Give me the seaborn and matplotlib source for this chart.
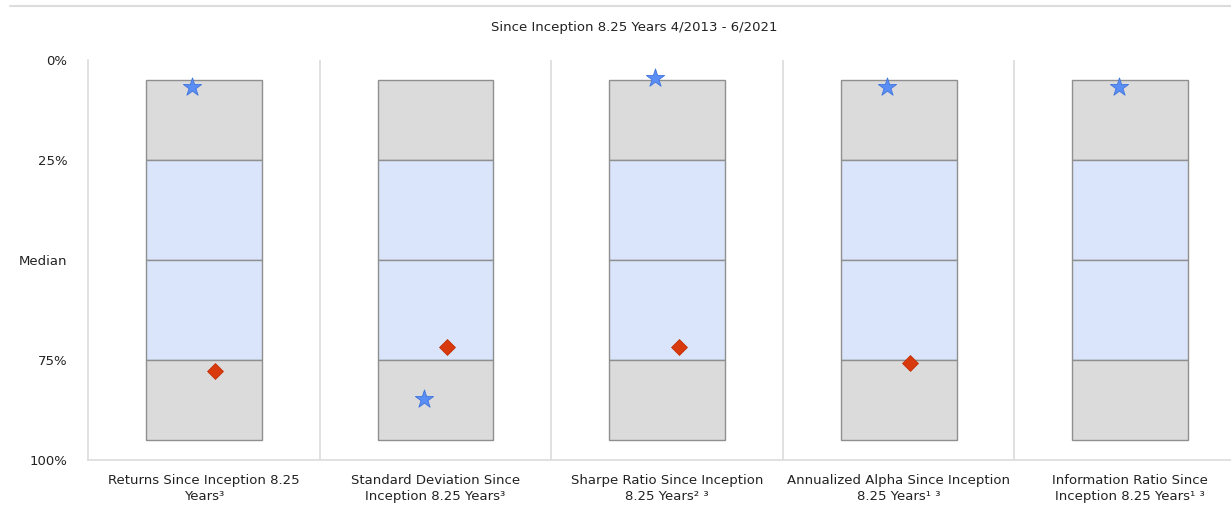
import numpy as np
import pandas as pd
import seaborn as sns
import matplotlib.pyplot as plt

categories = ["Returns Since Inception 8.25\nYears³",
              "Standard Deviation Since\nInception 8.25 Years³",
              "Sharpe Ratio Since Inception\n8.25 Years² ³",
              "Annualized Alpha Since Inception\n8.25 Years¹ ³",
              "Information Ratio Since\nInception 8.25 Years¹ ³"]
# percentile band edges of the box (5th .. 95th)
band_edges = [5, 25, 50, 75, 95]
band_colors = ["#dbdbdb", "#dae5fb", "#dae5fb", "#dbdbdb"]
star_pct = [6.75, 84.75, 4.5, 6.75, 6.75]
diamond_pct = [77.75, 71.75, 71.75, 75.75, np.nan]
ytick_vals = [0, 25, 50, 75, 100]
ytick_labels = ["0%", "25%", "Median", "75%", "100%"]

sns.set_theme(style="white")
plt.rcParams['font.family'] = ['DejaVu Sans']

fig = plt.figure(figsize=(12.31, 5.2), dpi=100)
ax = fig.add_axes([88/1231, 60/520, 1158/1231, 400/520])

x = np.arange(len(categories))
for i in range(len(band_colors)):
    ax.bar(x, band_edges[i+1]-band_edges[i], bottom=band_edges[i], width=0.5,
           color=band_colors[i], edgecolor="#8f8f8f", linewidth=1.0, zorder=2)

df_star = pd.DataFrame({"x": x - 0.05, "y": star_pct})
df_dia = pd.DataFrame({"x": x + 0.05, "y": diamond_pct}).dropna()
sns.scatterplot(data=df_star, x="x", y="y", marker="*", s=190, color="#5b8ef5",
                edgecolor="#3f73dd", linewidth=0.6, ax=ax, zorder=4)
sns.scatterplot(data=df_dia, x="x", y="y", marker="D", s=65, color="#d93a0d",
                edgecolor="#c23008", linewidth=0.6, ax=ax, zorder=4)

# category separators
for s in x[1:] - 0.5:
    ax.axvline(s, color="#dcdcdc", linewidth=1.2, zorder=1)

ax.set_xlim(-0.5, len(categories) - 0.5)
ax.set_ylim(100, 0)
ax.set_yticks(ytick_vals)
ax.set_yticklabels(ytick_labels)
ax.set_xticks(x)
ax.set_xticklabels(categories, fontsize=9.5, color="#222222", linespacing=1.3)
ax.tick_params(axis="y", length=0, pad=15, labelsize=9.5, labelcolor="#222222")
ax.tick_params(axis="x", length=0, pad=10)
ax.set_xlabel("")
ax.set_ylabel("")
for side in ["top", "right"]:
    ax.spines[side].set_visible(False)
for side in ["left", "bottom"]:
    ax.spines[side].set_color("#dcdcdc")
    ax.spines[side].set_linewidth(1.2)

fig.text(634/1231, 1 - 27/520, "Since Inception 8.25 Years 4/2013 - 6/2021",
         ha="center", va="center", fontsize=9.5, color="#222222")
fig.add_artist(plt.Line2D([10/1231, 1], [1 - 6/520, 1 - 6/520],
                          transform=fig.transFigure, color="#dcdcdc", linewidth=1.5))

fig.savefig("out.png", dpi=100)
